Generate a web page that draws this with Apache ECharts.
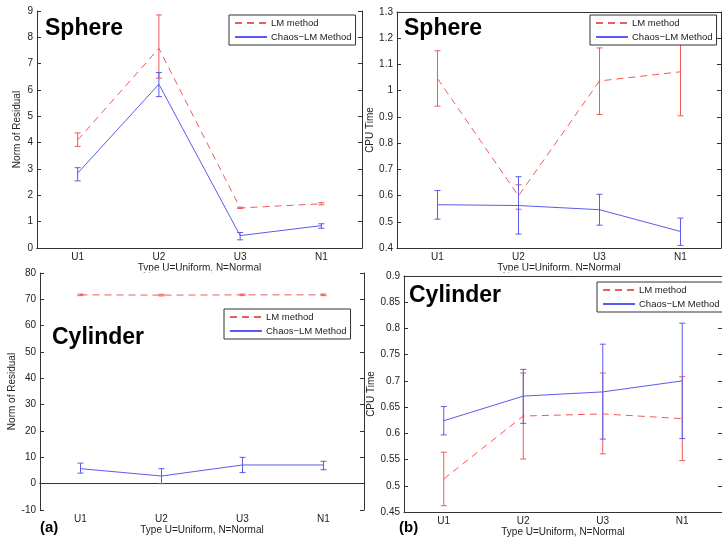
<!DOCTYPE html>
<html>
<head>
<meta charset="utf-8">
<script src="https://cdn.jsdelivr.net/npm/echarts@6/dist/echarts.min.js"></script>
<style>
  html, body { margin: 0; background: #fff; }
  #main { width: 722px; height: 540px; }
</style>
</head>
<body>
<div id="main"></div>
<script>
// categories (x axis)
const categories = ['U1', 'U2', 'U3', 'N1'];

// Sphere - Norm of Residual
const sphResLM = [4.1, 7.58, 1.52, 1.68];
const sphResLMLow = [3.86, 6.45, 1.50, 1.64];
const sphResLMHigh = [4.37, 8.85, 1.55, 1.72];
const sphResChaos = [2.84, 6.22, 0.47, 0.85];
const sphResChaosLow = [2.55, 5.75, 0.31, 0.75];
const sphResChaosHigh = [3.05, 6.66, 0.59, 0.92];

// Sphere - CPU Time
const sphCpuLM = [1.046, 0.599, 1.037, 1.072];
const sphCpuLMLow = [0.941, 0.548, 0.909, 0.904];
const sphCpuLMHigh = [1.152, 0.641, 1.163, 1.24];
const sphCpuChaos = [0.565, 0.562, 0.546, 0.463];
const sphCpuChaosLow = [0.51, 0.453, 0.487, 0.41];
const sphCpuChaosHigh = [0.619, 0.672, 0.605, 0.514];

// Cylinder - Norm of Residual
const cylResLM = [71.7, 71.6, 71.7, 71.7];
const cylResLMLow = [71.4, 71.3, 71.4, 71.4];
const cylResLMHigh = [72.0, 71.9, 72.0, 72.0];
const cylResChaos = [5.7, 2.9, 7.1, 7.1];
const cylResChaosLow = [4.0, 0.0, 4.2, 5.3];
const cylResChaosHigh = [7.8, 5.7, 10.0, 8.5];

// Cylinder - CPU Time
const cylCpuLM = [0.513, 0.633, 0.637, 0.628];
const cylCpuLMLow = [0.462, 0.551, 0.561, 0.548];
const cylCpuLMHigh = [0.564, 0.715, 0.715, 0.708];
const cylCpuChaos = [0.624, 0.671, 0.679, 0.70];
const cylCpuChaosLow = [0.597, 0.619, 0.589, 0.59];
const cylCpuChaosHigh = [0.651, 0.722, 0.77, 0.81];

// y axis ranges: [min, max, interval]
const yRanges = [[0, 9, 1], [0.4, 1.3, 0.1], [-10, 80, 10], [0.45, 0.9, 0.05]];
const yNames = ['Norm of Residual', 'CPU Time', 'Norm of Residual', 'CPU Time'];
const yNameGaps = [15, 22, 23, 28];
const xName = 'Type U=Uniform, N=Normal';

const RED = '#ef5b5b';
const BLUE = '#5b5bef';
const FONT = '"Liberation Sans", Arial, sans-serif';
const AXIS_COLOR = '#333';

const grids = [
  { left: 37, top: 11, width: 325, height: 237 },
  { left: 397, top: 12, width: 324, height: 236 },
  { left: 40, top: 273, width: 324, height: 237 },
  { left: 404, top: 276, width: 324, height: 236 }
];

const xAxis = [];
const yAxis = [];
grids.forEach(function (g, i) {
  xAxis.push({
    type: 'category', gridIndex: i, data: categories, position: 'bottom',
    name: xName, nameLocation: 'middle', nameGap: 15,
    nameTextStyle: { fontFamily: FONT, fontSize: 10, color: '#222' },
    axisLine: { lineStyle: { color: AXIS_COLOR } },
    axisTick: { inside: true, length: 4, alignWithLabel: true, lineStyle: { color: AXIS_COLOR } },
    axisLabel: { fontFamily: FONT, fontSize: 10, color: '#222', margin: 4 },
    splitLine: { show: false }
  });
  xAxis.push({
    type: 'category', gridIndex: i, data: categories, position: 'top',
    axisLine: { lineStyle: { color: AXIS_COLOR } },
    axisTick: { inside: true, length: 4, alignWithLabel: true, lineStyle: { color: AXIS_COLOR } },
    axisLabel: { show: false }
  });
  const r = yRanges[i];
  yAxis.push({
    type: 'value', gridIndex: i, min: r[0], max: r[1], interval: r[2], position: 'left',
    name: yNames[i], nameLocation: 'middle', nameGap: yNameGaps[i],
    nameTextStyle: { fontFamily: FONT, fontSize: 10, color: '#222' },
    axisLine: { show: true, lineStyle: { color: AXIS_COLOR } },
    axisTick: { show: true, inside: true, length: 4, lineStyle: { color: AXIS_COLOR } },
    axisLabel: { fontFamily: FONT, fontSize: 10, color: '#222', margin: 4 },
    splitLine: { show: false }
  });
  yAxis.push({
    type: 'value', gridIndex: i, min: r[0], max: r[1], interval: r[2], position: 'right',
    axisLine: { show: true, lineStyle: { color: AXIS_COLOR } },
    axisTick: { show: true, inside: true, length: 4, lineStyle: { color: AXIS_COLOR } },
    axisLabel: { show: false },
    splitLine: { show: false }
  });
});

function lineSeries(name, i, data, color, dashed) {
  return {
    type: 'line', name: name, xAxisIndex: i * 2, yAxisIndex: i * 2,
    data: data, symbol: 'none', showSymbol: false, z: 3,
    lineStyle: { color: color, width: 1, type: dashed ? [7, 5] : 'solid' },
    itemStyle: { color: color }
  };
}

function errSeries(i, low, high, color) {
  const data = low.map(function (v, k) { return [k, v, high[k]]; });
  return {
    type: 'custom', name: 'err' + i + color, xAxisIndex: i * 2, yAxisIndex: i * 2,
    data: data, z: 3, silent: true,
    encode: { x: 0, y: [1, 2] },
    renderItem: function (params, api) {
      const lo = api.coord([api.value(0), api.value(1)]);
      const hi = api.coord([api.value(0), api.value(2)]);
      const w = 3;
      const st = { stroke: color, lineWidth: 1, fill: null };
      return {
        type: 'group',
        children: [
          { type: 'line', shape: { x1: lo[0], y1: lo[1], x2: hi[0], y2: hi[1] }, style: st },
          { type: 'line', shape: { x1: lo[0] - w, y1: lo[1], x2: lo[0] + w, y2: lo[1] }, style: st },
          { type: 'line', shape: { x1: hi[0] - w, y1: hi[1], x2: hi[0] + w, y2: hi[1] }, style: st }
        ]
      };
    }
  };
}

const panels = [
  [sphResLM, sphResLMLow, sphResLMHigh, sphResChaos, sphResChaosLow, sphResChaosHigh],
  [sphCpuLM, sphCpuLMLow, sphCpuLMHigh, sphCpuChaos, sphCpuChaosLow, sphCpuChaosHigh],
  [cylResLM, cylResLMLow, cylResLMHigh, cylResChaos, cylResChaosLow, cylResChaosHigh],
  [cylCpuLM, cylCpuLMLow, cylCpuLMHigh, cylCpuChaos, cylCpuChaosLow, cylCpuChaosHigh]
];

const series = [];
panels.forEach(function (p, i) {
  series.push(lineSeries('LM method', i, p[0], RED, true));
  series.push(errSeries(i, p[1], p[2], RED));
  series.push(lineSeries('Chaos\u2212LM Method', i, p[3], BLUE, false));
  series.push(errSeries(i, p[4], p[5], BLUE));
});

const legendPos = [
  { left: 229, top: 15 },
  { left: 590, top: 15 },
  { left: 224, top: 309 },
  { left: 597, top: 282 }
];
const legend = legendPos.map(function (pos) {
  return {
    left: pos.left, top: pos.top, orient: 'vertical',
    data: ['LM method', 'Chaos\u2212LM Method'],
    backgroundColor: '#fff', borderColor: '#333', borderWidth: 1, borderRadius: 0,
    padding: [3, 4, 3, 5], itemGap: 4, itemWidth: 32, itemHeight: 8,
    itemStyle: { opacity: 0 },
    textStyle: { fontFamily: FONT, fontSize: 9.5, color: '#222', padding: [0, 0, 0, -1] },
    selectedMode: false
  };
});

function label(text, x, y, size) {
  return {
    type: 'text', x: x, y: y, z: 50,
    style: { text: text, font: 'bold ' + size + 'px ' + FONT, fill: '#000', verticalAlign: 'middle' }
  };
}

const chart = echarts.init(document.getElementById('main'));
chart.setOption({
  animation: false,
  backgroundColor: '#fff',
  grid: grids.map(function (g) { return Object.assign({ containLabel: false }, g); }),
  xAxis: xAxis,
  yAxis: yAxis,
  legend: legend,
  series: series,
  graphic: [
    { type: 'rect', z: 40, shape: { x: 120, y: 270.5, width: 170, height: 2 }, style: { fill: '#fff' } },
    { type: 'rect', z: 40, shape: { x: 480, y: 270.5, width: 170, height: 2 }, style: { fill: '#fff' } },
    label('Sphere', 45, 29, 23),
    label('Sphere', 404, 29, 23),
    label('Cylinder', 52, 338, 23),
    label('Cylinder', 409, 296, 23),
    label('(a)', 40, 528, 15),
    label('(b)', 399, 528, 15)
  ]
});
</script>
</body>
</html>
